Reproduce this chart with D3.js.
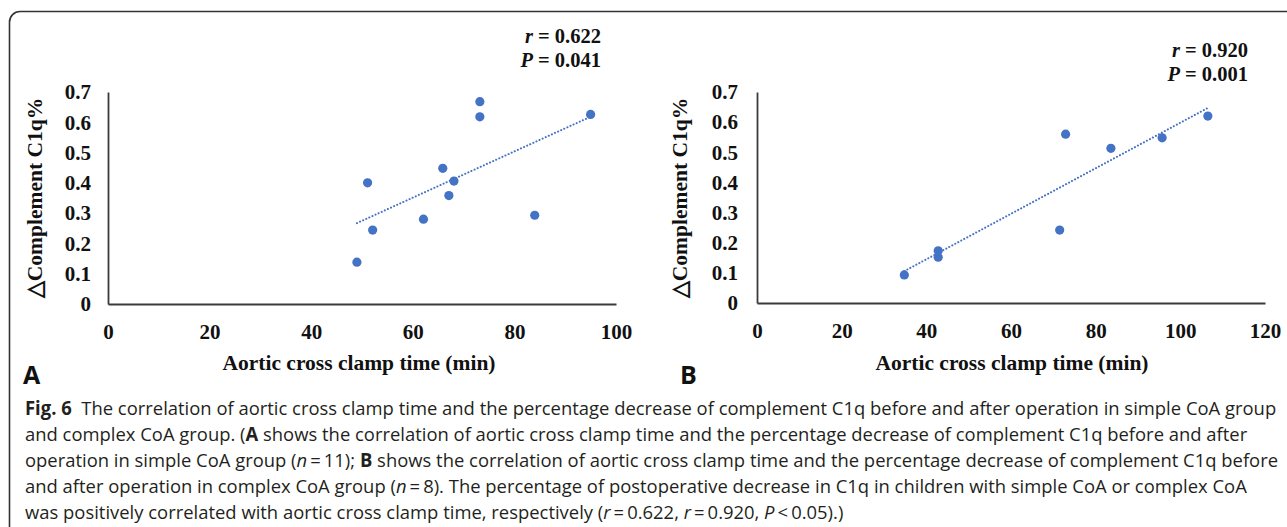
<!DOCTYPE html>
<html>
<head>
<meta charset="utf-8">
<script src="https://cdn.jsdelivr.net/npm/d3@7"></script>
<style>
    body { margin: 0; background: #fff; }
</style>
</head>
<body>
<div id="chart"></div>
<script>

// panel A: simple CoA group (n = 11)
const timeA = [73.2, 73.2, 95.0, 65.9, 51.1, 68.1, 67.1, 62.1, 84.0, 52.1, 49.0];
const c1qA  = [0.668, 0.618, 0.626, 0.448, 0.400, 0.406, 0.358, 0.280, 0.293, 0.244, 0.138];

// panel B: complex CoA group (n = 8)
const timeB = [106.5, 95.7, 83.6, 72.9, 71.5, 42.8, 42.8, 34.8];
const c1qB  = [0.620, 0.548, 0.513, 0.560, 0.242, 0.173, 0.152, 0.093];

const xTicksA = [0, 20, 40, 60, 80, 100];
const xTicksB = [0, 20, 40, 60, 80, 100, 120];
const yTicks  = [0, 0.1, 0.2, 0.3, 0.4, 0.5, 0.6, 0.7];

const statsA = ['0.622', '0.041'];
const statsB = ['0.920', '0.001'];

const xTitle = 'Aortic cross clamp time (min)';
const yTitle = '\u25B3Complement C1q%';

// caption, one entry per line: [text, style]
const captionLines = [
    [['Fig. 6', 'b'], ['\u00A0 The correlation of aortic cross clamp time and the percentage decrease of complement C1q before and after operation in simple CoA group', '']],
    [['and complex CoA group. (', ''], ['A', 'b'], [' shows the correlation of aortic cross clamp time and the percentage decrease of complement C1q before and after', '']],
    [['operation in simple CoA group (', ''], ['n', 'i'], ['\u2009=\u200911); ', ''], ['B', 'b'], [' shows the correlation of aortic cross clamp time and the percentage decrease of complement C1q before', '']],
    [['and after operation in complex CoA group (', ''], ['n', 'i'], ['\u2009=\u20098). The percentage of postoperative decrease in C1q in children with simple CoA or complex CoA', '']],
    [['was positively correlated with aortic cross clamp time, respectively (', ''], ['r', 'i'], ['\u2009=\u20090.622, ', ''], ['r', 'i'], ['\u2009=\u20090.920, ', ''], ['P', 'i'], ['\u2009<\u20090.05).)', '']]
];

const BLUE = '#4472C4';
const SERIF = '"Liberation Serif", "Times New Roman", serif';
const SANS = '"Open Sans", "Noto Sans", sans-serif';


function createSVG(containerId, width, height) {

    try {

        let svg = d3.select(containerId)
            .append('svg')
            .attr('width', width)
            .attr('height', height)
            .attr('viewBox', '0 0 ' + width + ' ' + height);
        return svg;

    } catch (error) {

        console.log('Function: createSVG. Error: ' + error);
        return null;
    }
}

function linearFit(xs, ys) {

    let mx = d3.mean(xs);
    let my = d3.mean(ys);
    let sxy = d3.sum(xs, (x, i) => (x - mx) * (ys[i] - my));
    let sxx = d3.sum(xs, x => (x - mx) * (x - mx));
    let slope = sxy / sxx;
    return { slope: slope, intercept: my - slope * mx };
}

function createScatterPanel(svg, p) {

    try {

        let g = svg.append('g');

        let x = d3.scaleLinear().domain([0, d3.max(p.xTicks)]).range([p.left, p.right]);
        let y = d3.scaleLinear().domain([0, 0.7]).range([p.bottom, p.top]);

        // axes
        let xAxis = g.append('g')
            .attr('transform', 'translate(0,' + p.bottom + ')')
            .call(d3.axisBottom(x).tickValues(p.xTicks).tickSize(0).tickPadding(20));

        let yAxis = g.append('g')
            .attr('transform', 'translate(' + p.left + ',0)')
            .call(d3.axisLeft(y).tickValues(yTicks).tickSize(0).tickPadding(p.yPad)
                .tickFormat(d => d === 0 ? '0' : d3.format('.1f')(d)));

        [xAxis, yAxis].forEach(a => {
            a.attr('font-family', SERIF).attr('font-size', 21).attr('font-weight', 'bold');
            a.select('.domain').attr('stroke', '#3a3a3a').attr('stroke-width', 1.8);
            a.selectAll('text').attr('fill', '#111');
        });

        // trend line
        let fit = linearFit(p.xs, p.ys);
        let ext = d3.extent(p.xs);
        let line = d3.line().x(d => x(d)).y(d => y(fit.intercept + fit.slope * d));
        g.append('path')
            .attr('d', line(ext))
            .attr('fill', 'none')
            .attr('stroke', BLUE)
            .attr('stroke-width', 2)
            .attr('stroke-linecap', 'round')
            .attr('stroke-dasharray', '0.1,3.3');

        // points
        g.selectAll('circle')
            .data(p.xs.map((v, i) => [v, p.ys[i]])).enter()
            .append('circle')
            .attr('cx', d => x(d[0]))
            .attr('cy', d => y(d[1]))
            .attr('r', 4.6)
            .attr('fill', BLUE);

        // axis titles
        g.append('text')
            .attr('x', p.xTitleX).attr('y', p.xTitleY)
            .attr('text-anchor', 'middle')
            .attr('font-family', SERIF).attr('font-size', 21.5).attr('font-weight', 'bold')
            .attr('fill', '#111')
            .text(xTitle);

        g.append('text')
            .attr('transform', 'translate(' + p.yTitleX + ',' + p.yTitleY + ') rotate(-90)')
            .attr('text-anchor', 'middle')
            .attr('font-family', SERIF).attr('font-size', 21.5).attr('font-weight', 'bold')
            .attr('fill', '#111')
            .text(yTitle);

        // r and P
        [['r', p.stats[0]], ['P', p.stats[1]]].forEach((s, i) => {
            let t = g.append('text')
                .attr('x', p.statsX).attr('y', p.statsY + i * 23.5)
                .attr('text-anchor', 'end')
                .attr('font-family', SERIF).attr('font-size', 20.5).attr('font-weight', 'bold')
                .attr('fill', '#111');
            t.append('tspan').attr('font-style', 'italic').text(s[0]);
            t.append('tspan').text(' = ' + s[1]);
        });

        // panel letter
        g.append('text')
            .attr('x', p.letterX).attr('y', 384)
            .attr('font-family', SANS).attr('font-size', 25).attr('font-weight', 'bold')
            .attr('fill', '#111')
            .text(p.letter);

    } catch (error) {

        console.log('Function: createScatterPanel. Error: ' + error);
    }
}

function writeCaption(svg, lines, refLine, refWidth) {

    try {

        let texts = lines.map(segs => {
            let t = svg.append('text')
                .attr('x', 0)
                .attr('y', 0)
                .attr('font-family', SANS)
                .attr('font-size', 19)
                .attr('fill', '#231f20');
            segs.forEach(s => {
                let ts = t.append('tspan').text(s[0]);
                if (s[1] === 'b') ts.attr('font-weight', 'bold');
                if (s[1] === 'i') ts.attr('font-style', 'italic');
            });
            return t;
        });

        // one common horizontal squeeze, taken from a line whose end is known
        let w = texts[refLine].node().getComputedTextLength();
        let sx = w > 0 ? refWidth / w : 1;

        texts.forEach((t, i) => {
            t.attr('transform', 'translate(25,' + (415 + i * 26) + ') scale(' + sx + ',1)');
        });

    } catch (error) {

        console.log('Function: writeCaption. Error: ' + error);
    }
}


let svg = createSVG('#chart', 1287, 527);

// rounded frame, open on the right and at the bottom
svg.append('path')
    .attr('d', 'M9.5,527 V22 A10.5,10.5 0 0 1 20,11.5 H1287')
    .attr('fill', 'none')
    .attr('stroke', '#333')
    .attr('stroke-width', 1.6);

createScatterPanel(svg, {
    xs: timeA, ys: c1qA, xTicks: xTicksA, stats: statsA, letter: 'A',
    left: 108, right: 616, top: 92, bottom: 304, yPad: 17,
    xTitleX: 359, xTitleY: 370, yTitleX: 42, yTitleY: 198,
    statsX: 601, statsY: 43, letterX: 23
});

createScatterPanel(svg, {
    xs: timeB, ys: c1qB, xTicks: xTicksB, stats: statsB, letter: 'B',
    left: 757, right: 1265, top: 92, bottom: 303, yPad: 19,
    xTitleX: 1012, xTitleY: 370, yTitleX: 687, yTitleY: 198,
    statsX: 1248, statsY: 57, letterX: 680
});

writeCaption(svg, captionLines, 2, 1254);

</script>
</body>
</html>
